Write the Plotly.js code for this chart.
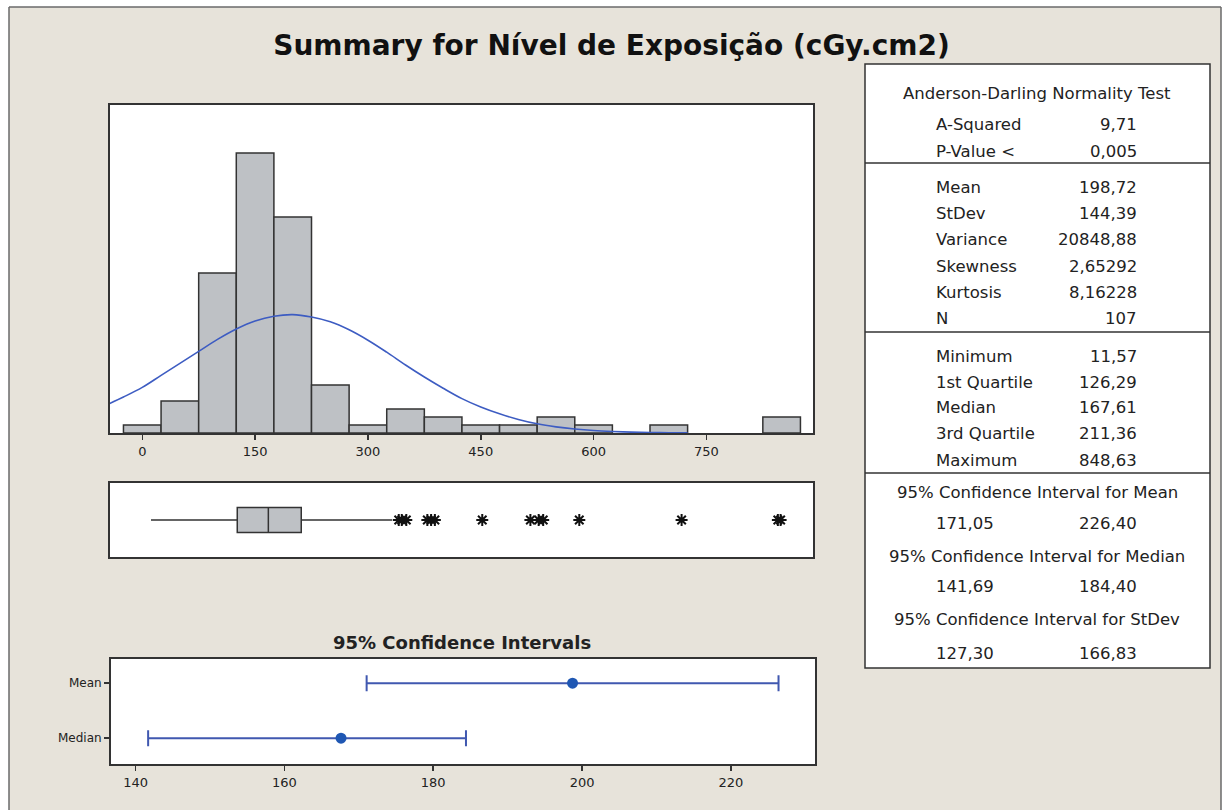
<!DOCTYPE html>
<html>
<head>
<meta charset="utf-8">
<script src="https://cdn.plot.ly/plotly-3.0.1.min.js"></script>
<style>html,body{margin:0;padding:0;background:#fff;}#chart{width:1223px;height:810px;}</style>
</head>
<body>
<div id="chart"></div>
<script>
// ---------- data ----------
const binCenters = [0, 50, 100, 150, 200, 250, 300, 350, 400, 450, 500, 550, 600, 700, 850];
const binCounts  = [1, 4, 20, 35, 27, 6, 1, 3, 2, 1, 1, 2, 1, 1, 2];
const binWidth = 50;

// fitted normal curve (frequency scale)
const curveX = [-50, -25, 0, 25, 50, 75, 100, 125, 150, 175, 200, 225, 250, 275, 300, 325, 350, 375, 400, 425, 450, 475, 500, 525, 550, 575, 600, 625, 650, 675, 700, 725];
const curveY = [3.4, 4.5, 5.7, 7.2, 8.7, 10.2, 11.7, 13.0, 14.0, 14.6, 14.8, 14.5, 13.9, 12.9, 11.6, 10.1, 8.5, 7.0, 5.6, 4.3, 3.25, 2.4, 1.7, 1.15, 0.77, 0.5, 0.31, 0.19, 0.11, 0.06, 0.03, 0.015];

const histTicks = [0, 150, 300, 450, 600, 750];

const boxMin = 11.57, boxQ1 = 126.29, boxMedian = 167.61, boxQ3 = 211.36, boxUpperWhisker = 332;
const outliers = [341, 345, 351, 379, 384, 389, 452, 516, 527, 533, 581, 717, 845, 848.63];

const ciLabels = ['Mean', 'Median'];
const ciEstimate = [198.72, 167.61];
const ciLower = [171.05, 141.69];
const ciUpper = [226.40, 184.40];
const ciTicks = [140, 160, 180, 200, 220];

const adLabels = ['A-Squared', 'P-Value <'];
const adValues = ['9,71', '0,005'];
const descLabels = ['Mean', 'StDev', 'Variance', 'Skewness', 'Kurtosis', 'N'];
const descValues = ['198,72', '144,39', '20848,88', '2,65292', '8,16228', '107'];
const quartLabels = ['Minimum', '1st Quartile', 'Median', '3rd Quartile', 'Maximum'];
const quartValues = ['11,57', '126,29', '167,61', '211,36', '848,63'];
const intervalHeaders = ['95% Confidence Interval for Mean', '95% Confidence Interval for Median', '95% Confidence Interval for StDev'];
const intervalLow = ['171,05', '141,69', '127,30'];
const intervalHigh = ['226,40', '184,40', '166,83'];

// ---------- layout helpers ----------
const W = 1223, H = 810;
const px = v => v / W;
const py = v => 1 - v / H;
const FONT = 'DejaVu Sans';
const INK = '#222';
const BG = '#E7E3DA';

const traces = [
  {
    type: 'bar', x: binCenters, y: binCounts, width: binWidth,
    marker: {color: '#BEC1C5', line: {color: '#333', width: 1.5}},
    xaxis: 'x', yaxis: 'y', hoverinfo: 'x+y'
  },
  {
    type: 'scatter', mode: 'lines', x: curveX, y: curveY,
    line: {color: '#3D5CC2', width: 1.6, shape: 'spline'},
    xaxis: 'x', yaxis: 'y'
  },
  {
    type: 'box', orientation: 'h', y: [0],
    q1: [boxQ1], median: [boxMedian], q3: [boxQ3],
    lowerfence: [boxMin], upperfence: [boxUpperWhisker],
    width: 0.68, whiskerwidth: 0, boxpoints: false,
    fillcolor: '#BEC1C5', line: {color: '#333', width: 1.5},
    xaxis: 'x2', yaxis: 'y2'
  },
  {
    type: 'scatter', mode: 'markers', x: outliers, y: outliers.map(() => 0),
    marker: {symbol: 'asterisk-open', size: 10, color: '#111', line: {color: '#111', width: 2}},
    xaxis: 'x2', yaxis: 'y2'
  },
  {
    type: 'scatter', mode: 'markers', x: ciEstimate, y: ciLabels,
    marker: {color: '#1F57B3', size: 11},
    error_x: {
      type: 'data', symmetric: false,
      array: ciEstimate.map((e, i) => ciUpper[i] - e),
      arrayminus: ciEstimate.map((e, i) => e - ciLower[i]),
      color: '#4058B0', thickness: 2, width: 8
    },
    xaxis: 'x3', yaxis: 'y3'
  }
];

const frame = {showline: true, mirror: true, linecolor: '#333', linewidth: 2, showgrid: false, zeroline: false};

// table annotations
const annotations = [];
function txt(text, x, y, anchor, size, bold) {
  annotations.push({
    text: text, xref: 'paper', yref: 'paper', x: px(x), y: py(y),
    xanchor: anchor, yanchor: 'middle', showarrow: false,
    font: {family: FONT, size: size || 16.5, color: INK, weight: bold ? 700 : 400}
  });
}
const LX = 934, RX = 1139, CX = 1037;
txt('Anderson-Darling Normality Test', CX, 93, 'center');
const adY = [124, 151];
adLabels.forEach((l, i) => { txt(l, LX, adY[i], 'left'); txt(adValues[i], RX, adY[i], 'right'); });
const descY = [188, 213, 239, 266, 292, 318];
descLabels.forEach((l, i) => { txt(l, LX, descY[i], 'left'); txt(descValues[i], RX, descY[i], 'right'); });
const quartY = [356, 382, 408, 433, 460];
quartLabels.forEach((l, i) => { txt(l, LX, quartY[i], 'left'); txt(quartValues[i], RX, quartY[i], 'right'); });
const headY = [492, 556, 619], valY = [523, 586, 653];
intervalHeaders.forEach((h, i) => {
  txt(h, CX, headY[i], 'center');
  txt(intervalLow[i], LX, valY[i], 'left');
  txt(intervalHigh[i], RX, valY[i], 'right');
});
annotations.push({
  text: '95% Confidence Intervals', xref: 'paper', yref: 'paper', x: px(462), y: py(642),
  xanchor: 'center', yanchor: 'middle', showarrow: false,
  font: {family: FONT, size: 18, color: INK, weight: 700}
});

const shapes = [
  // white strips outside the outer frame
  {type: 'rect', xref: 'paper', yref: 'paper', x0: 0, x1: 1, y0: py(7), y1: 1, fillcolor: '#fff', line: {width: 0}, layer: 'below'},
  {type: 'rect', xref: 'paper', yref: 'paper', x0: 0, x1: px(9), y0: 0, y1: 1, fillcolor: '#fff', line: {width: 0}, layer: 'below'},
  {type: 'rect', xref: 'paper', yref: 'paper', x0: px(1221), x1: 1, y0: 0, y1: 1, fillcolor: '#fff', line: {width: 0}, layer: 'below'},
  {type: 'line', xref: 'paper', yref: 'paper', x0: px(9), x1: px(1221), y0: py(7), y1: py(7), line: {color: '#6a6a6a', width: 1.5}},
  {type: 'line', xref: 'paper', yref: 'paper', x0: px(9), x1: px(9), y0: 0, y1: py(7), line: {color: '#6a6a6a', width: 1.5}},
  {type: 'line', xref: 'paper', yref: 'paper', x0: px(1221), x1: px(1221), y0: 0, y1: py(7), line: {color: '#6a6a6a', width: 1.5}},
  // stats table
  {type: 'rect', xref: 'paper', yref: 'paper', x0: px(865), x1: px(1210), y0: py(668), y1: py(64), fillcolor: '#fff', line: {color: '#333', width: 1.5}},
  {type: 'line', xref: 'paper', yref: 'paper', x0: px(865), x1: px(1210), y0: py(163), y1: py(163), line: {color: '#333', width: 1.5}},
  {type: 'line', xref: 'paper', yref: 'paper', x0: px(865), x1: px(1210), y0: py(332), y1: py(332), line: {color: '#333', width: 1.5}},
  {type: 'line', xref: 'paper', yref: 'paper', x0: px(865), x1: px(1210), y0: py(473), y1: py(473), line: {color: '#333', width: 1.5}}
];

const layout = {
  width: W, height: H, autosize: false,
  margin: {l: 0, r: 0, t: 0, b: 0, pad: 0},
  paper_bgcolor: BG, plot_bgcolor: '#fff',
  showlegend: false,
  font: {family: FONT, color: INK},
  title: {
    text: 'Summary for Nível de Exposição (cGy.cm2)',
    x: 0.5, xanchor: 'center', y: py(45), yanchor: 'middle', yref: 'container',
    font: {family: FONT, size: 28, color: '#111', weight: 700}
  },
  xaxis: Object.assign({}, frame, {
    domain: [px(110), px(813)], range: [-42.9, 891.7], anchor: 'y',
    tickvals: histTicks, ticks: 'outside', ticklen: 5, tickcolor: '#333', tickwidth: 1.5,
    tickfont: {family: FONT, size: 13, color: INK}
  }),
  yaxis: Object.assign({}, frame, {
    domain: [py(433), py(105)], range: [0, 41], anchor: 'x',
    ticks: '', showticklabels: false
  }),
  xaxis2: Object.assign({}, frame, {
    domain: [px(110), px(813)], range: [-42.9, 891.7], anchor: 'y2',
    ticks: '', showticklabels: false
  }),
  yaxis2: Object.assign({}, frame, {
    domain: [py(557), py(483)], range: [-1, 1], anchor: 'x2',
    ticks: '', showticklabels: false
  }),
  xaxis3: Object.assign({}, frame, {
    domain: [px(111), px(815)], range: [136.7, 231.3], anchor: 'y3',
    tickvals: ciTicks, ticks: 'outside', ticklen: 5, tickcolor: '#333', tickwidth: 1.5,
    tickfont: {family: FONT, size: 13, color: INK}
  }),
  yaxis3: Object.assign({}, frame, {
    domain: [py(764), py(659)], range: [-0.47, 1.44], anchor: 'x3',
    type: 'category', categoryorder: 'array', categoryarray: ['Median', 'Mean'],
    ticks: 'outside', ticklen: 5, tickcolor: '#333', tickwidth: 1.5,
    tickfont: {family: FONT, size: 12, color: INK}
  }),
  annotations: annotations,
  shapes: shapes
};

Plotly.newPlot('chart', traces, layout, {staticPlot: true, displayModeBar: false});
</script>
</body>
</html>
